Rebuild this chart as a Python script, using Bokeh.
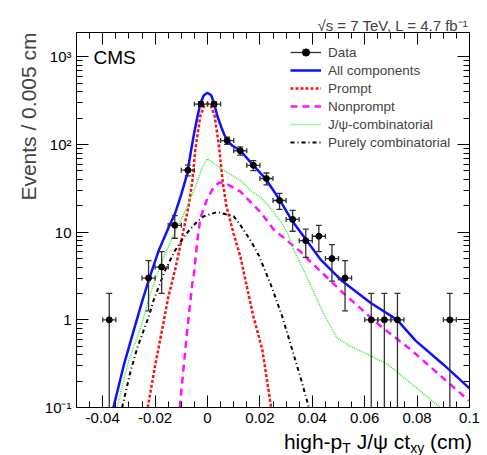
import numpy as np
from math import pi
from bokeh.plotting import figure
from bokeh.layouts import column
from bokeh.models import (Range1d, FixedTicker, LogAxis, LinearAxis, Label, Legend,
                          LegendItem, CustomJSTickFormatter, Title, Div)
from bokeh.embed import file_html
from bokeh.resources import INLINE

# ---------------- data ----------------
bin_centers = [-0.0375, -0.0225, -0.0175, -0.0125, -0.0075, -0.0025, 0.0025, 0.0075,
               0.0125, 0.0175, 0.0225, 0.0275, 0.0325, 0.0375, 0.0425, 0.0475,
               0.0525, 0.0625, 0.0675, 0.0725, 0.0925]
counts = [1, 3, 4, 12, 51, 290, 290, 111, 85, 58, 41, 23, 14, 8, 9, 5, 3, 1, 1, 1, 1]
bin_half_width = 0.0025

all_x = [-0.0359, -0.032, -0.0282, -0.025, -0.0225, -0.0187, -0.015, -0.0125, -0.010,
         -0.0077, -0.0065, -0.0052, -0.0039, -0.0027, -0.0014, 0.0, 0.0014, 0.0025,
         0.0039, 0.0052, 0.0065, 0.0075, 0.0095, 0.0126, 0.0175, 0.0221, 0.0275,
         0.0323, 0.0375, 0.0431, 0.0514, 0.0622, 0.0724, 0.0794, 0.09, 0.1]
all_y = [0.1, 0.3, 0.75, 1.6, 2.8, 6.1, 11.0, 16.0, 27.0,
         47.0, 78.0, 130.0, 205.0, 295.0, 365.0, 390.0, 365.0, 295.0,
         205.0, 160.0, 128.0, 111.0, 97.0, 85.0, 58.0, 41.0, 23.5,
         13.5, 8.3, 4.9, 2.77, 1.57, 1.0, 0.58, 0.31, 0.165]

prompt_x = [-0.0228, -0.020, -0.0173, -0.015, -0.0122, -0.010, -0.0072, -0.0058, -0.0046,
            -0.0027, -0.0013, 0.0, 0.0013, 0.0027, 0.0045, 0.0058, 0.0072, 0.010,
            0.0126, 0.015, 0.0175, 0.0209, 0.0243]
prompt_y = [0.1, 0.3, 0.78, 1.8, 3.9, 8.0, 20.0, 38.0, 90.0,
            215.0, 275.0, 295.0, 275.0, 215.0, 90.0, 38.0, 20.0, 9.5,
            5.2, 2.4, 1.1, 0.46, 0.1]

nonprompt_x = [-0.0106, -0.0084, -0.0077, -0.0058, -0.0052, -0.0039, -0.0027, 0.0,
               0.0025, 0.0045, 0.007, 0.0126, 0.0202, 0.0253, 0.0355, 0.0381,
               0.052, 0.066, 0.0775, 0.0997]
nonprompt_y = [0.1, 0.48, 0.78, 2.6, 3.3, 7.9, 14.6, 24.5,
               33.0, 37.0, 36.0, 29.0, 17.0, 10.7, 6.0, 5.0,
               2.0, 0.85, 0.46, 0.12]

jpsicomb_x = [-0.0345, -0.030, -0.0256, -0.022, -0.0179, -0.0125, -0.0103, -0.0077,
              -0.0052, -0.0039, -0.002, 0.0, 0.002, 0.005, 0.0126, 0.0164, 0.0202,
              0.024, 0.0285, 0.0304, 0.0317, 0.0329, 0.035, 0.0381, 0.0444, 0.0495,
              0.0546, 0.0686, 0.0889]
jpsicomb_y = [0.1, 0.35, 0.8, 1.9, 4.3, 10.0, 13.3, 20.0,
              30.0, 38.0, 55.0, 69.0, 62.0, 53.5, 39.0, 30.0, 25.0,
              19.0, 12.5, 10.0, 8.0, 6.3, 4.7, 3.0, 1.16, 0.62,
              0.5, 0.314, 0.1]

purecomb_x = [-0.0326, -0.0295, -0.0268, -0.0224, -0.0205, -0.0179, -0.0167, -0.0125,
              -0.0084, -0.0039, -0.0014, 0.0037, 0.010, 0.0126, 0.0165, 0.0195,
              0.024, 0.0285, 0.0322, 0.0355, 0.0387]
purecomb_y = [0.1, 0.25, 0.48, 1.1, 1.7, 2.7, 3.4, 6.1,
              9.4, 13.3, 15.2, 17.0, 15.2, 12.0, 8.0, 5.5,
              2.6, 1.1, 0.47, 0.22, 0.1]

x_tick_vals = [-0.04, -0.02, 0.0, 0.02, 0.04, 0.06, 0.08, 0.1]
x_tick_labels = ["-0.04", "-0.02", "0", "0.02", "0.04", "0.06", "0.08", "0.1"]
y_tick_vals = [0.1, 1, 10, 100, 1000]
y_tick_labels = ["10\u207b\u00b9", "1", "10", "10\u00b2", "10\u00b3"]

FONT = "Liberation Sans"

# ---------------- figure ----------------
p = figure(width=487, height=429, x_range=Range1d(-0.05, 0.1), y_range=Range1d(0.1, 1900),
           y_axis_type="log", output_backend="svg", toolbar_location=None,
           min_border_left=76, min_border_right=18, min_border_top=32, min_border_bottom=22)
p.grid.visible = False
p.outline_line_color = "black"
p.outline_line_width = 1
p.background_fill_color = "white"
p.border_fill_color = "white"

x_minor = [round(-0.05 + 0.005 * i, 4) for i in range(31)]
y_minor = [m * 10.0 ** e for e in range(-1, 4) for m in range(2, 10)]


def style_axis(ax):
    ax.axis_line_color = "black"
    ax.axis_line_width = 1
    ax.major_tick_in = 12
    ax.major_tick_out = 0
    ax.minor_tick_in = 6
    ax.minor_tick_out = 0
    ax.major_tick_line_color = "black"
    ax.minor_tick_line_color = "black"
    ax.major_label_text_font = FONT
    ax.major_label_text_font_size = "15px"
    ax.major_label_text_color = "black"


xax = p.xaxis[0]
xax.ticker = FixedTicker(ticks=x_tick_vals, minor_ticks=x_minor)
xax.major_label_overrides = {v: s for v, s in zip(x_tick_vals, x_tick_labels)}
style_axis(xax)
xax.major_label_standoff = 5

yax = p.yaxis[0]
yax.ticker = FixedTicker(ticks=y_tick_vals, minor_ticks=y_minor)
yax.major_label_overrides = {v: s for v, s in zip(y_tick_vals, y_tick_labels)}
style_axis(yax)
yax.major_label_standoff = 5

empty = CustomJSTickFormatter(code="return ''")
top_ax = LinearAxis(ticker=FixedTicker(ticks=x_tick_vals, minor_ticks=x_minor), formatter=empty)
style_axis(top_ax)
top_ax.major_label_text_font_size = "0px"
top_ax.major_label_standoff = 0
right_ax = LogAxis(ticker=FixedTicker(ticks=y_tick_vals, minor_ticks=y_minor), formatter=empty)
style_axis(right_ax)
right_ax.major_label_text_font_size = "0px"
right_ax.major_label_standoff = 0
p.add_layout(right_ax, "right")
p.add_layout(top_ax, "above")

# ---------------- titles outside the frame ----------------
p.add_layout(Title(text="\u221as = 7 TeV, L = 4.7 fb\u207b\u00b9", align="right",
                   text_font=FONT, text_font_size="15px", text_font_style="normal",
                   standoff=-3, offset=1), "above")
p.add_layout(Title(text="Events / 0.005 cm", align="right", text_font=FONT,
                   text_font_size="21px", text_font_style="normal", standoff=3), "left")

# ---------------- curves ----------------
r_all = p.line(all_x, all_y, line_color="#1010ff", line_width=2.5)
r_prompt = p.line(prompt_x, prompt_y, line_color="#ff1010", line_width=2.5, line_dash="3 2")
r_nonprompt = p.line(nonprompt_x, nonprompt_y, line_color="#ff10ff", line_width=2.5, line_dash="7 5")
r_jpsi = p.line(jpsicomb_x, jpsicomb_y, line_color="#33ee33", line_width=1.5, line_dash="1 1")
r_pure = p.line(purecomb_x, purecomb_y, line_color="black", line_width=2, line_dash="4 3 1 3")

# ---------------- data with error bars ----------------
xc = np.array(bin_centers)
n = np.array(counts, dtype=float)
err = np.sqrt(n)
upper = n + err
lower_raw = n - err
has_low = lower_raw > 0
lower = np.where(has_low, lower_raw, 1e-3)

ebar_color = "#333333"
p.segment(xc, lower, xc, upper, line_color=ebar_color, line_width=1.3)
r_hbar = p.segment(xc - bin_half_width, n, xc + bin_half_width, n, line_color=ebar_color, line_width=1.3)
p.scatter(xc, upper, marker="dash", size=6, line_color=ebar_color, line_width=1.3)
p.scatter(xc[has_low], lower[has_low], marker="dash", size=6, line_color=ebar_color, line_width=1.3)
p.scatter(np.concatenate([xc - bin_half_width, xc + bin_half_width]), np.concatenate([n, n]),
          marker="dash", angle=pi / 2, size=5, line_color=ebar_color, line_width=1.3)
r_pts = p.scatter(xc, n, marker="circle", size=6, fill_color="black", line_color="black")

# ---------------- legend ----------------
legend = Legend(items=[
    LegendItem(label="Data", renderers=[r_hbar, r_pts]),
    LegendItem(label="All components", renderers=[r_all]),
    LegendItem(label="Prompt", renderers=[r_prompt]),
    LegendItem(label="Nonprompt", renderers=[r_nonprompt]),
    LegendItem(label="J/\u03c8-combinatorial", renderers=[r_jpsi]),
    LegendItem(label="Purely combinatorial", renderers=[r_pure]),
], location=(214, 256))
legend.label_text_font = FONT
legend.label_text_font_size = "13.5px"
legend.glyph_width = 31
legend.glyph_height = 18
legend.label_height = 18
legend.label_standoff = 7
legend.padding = 5
legend.spacing = 0
legend.margin = 0
legend.border_line_color = None
legend.background_fill_alpha = 0
p.add_layout(legend, "center")

# ---------------- texts inside the frame ----------------
p.add_layout(Label(text="CMS", x=17, y=350, x_units="screen", y_units="screen",
                   text_font=FONT, text_font_size="19px", text_baseline="alphabetic",
                   text_color="black"))

# ---------------- x-axis title (with subscripts) ----------------
xtitle = Div(
    text=("<div style=\"width:467px; text-align:right; margin:0; padding:0; "
          "font-family:'Liberation Sans'; font-size:21px; line-height:15.5px; "
          "color:black; white-space:nowrap;\">"
          "high-p<span style=\"font-size:14px; position:relative; top:4px;\">T</span>"
          " J/\u03c8 ct<span style=\"font-size:14px; position:relative; top:4px;\">xy</span>"
          " (cm)</div>"),
    width=487, height=26)

layout = column(p, xtitle, spacing=0)
open("out.html", "w").write(file_html(layout, INLINE))
